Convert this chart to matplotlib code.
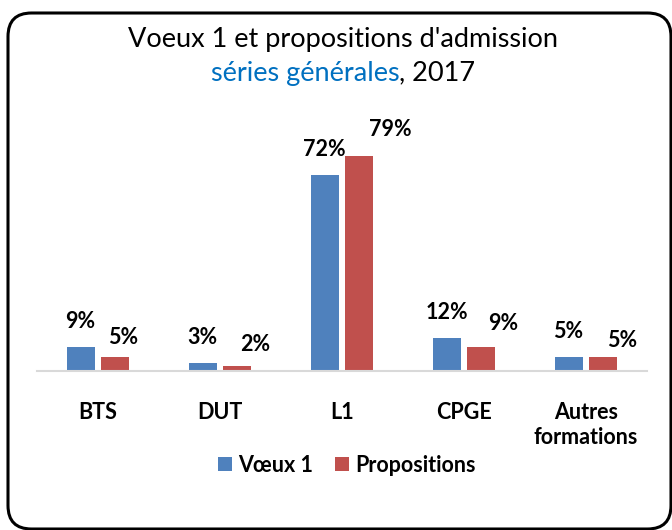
import matplotlib.pyplot as plt
import numpy as np
from matplotlib.patches import FancyBboxPatch

plt.rcParams['font.family'] = ['Lato', 'DejaVu Sans']

categories = ["BTS", "DUT", "L1", "CPGE", "Autres\nformations"]
voeux = [9, 3, 72, 12, 5]
propositions = [5, 2, 79, 9, 5]
series_names = ["Vœux 1", "Propositions"]

blue = "#4F81BD"
red = "#C0504D"

# red labels were dragged by hand in the original (pixel offsets)
red_dx = [8, 18, 31, 22, 19]
red_dy = [11, 13, 18, 15, 8]

W, H = 672, 530
fs = 15.5
fig = plt.figure(figsize=(W / 100, H / 100), dpi=100)

# rounded frame
box = FancyBboxPatch((8 / W, 1 - 529 / H), 663 / W, 516 / H,
                     boxstyle="round,pad=0,rounding_size=0.035",
                     transform=fig.transFigure, fill=False,
                     edgecolor="black", linewidth=2.2, mutation_aspect=W / H)
fig.patches.append(box)

ax = fig.add_axes([37 / W, 1 - 371 / H, 610 / W, 272 / H])
x = np.arange(len(categories))
w = 0.23
off = 0.143
b1 = ax.bar(x - off, voeux, w, color=blue, label=series_names[0])
b2 = ax.bar(x + off, propositions, w, color=red, label=series_names[1])

ax.set_xlim(-0.5, len(categories) - 0.5)
ax.set_ylim(0, 100)
for s in ["top", "left", "right"]:
    ax.spines[s].set_visible(False)
ax.spines["bottom"].set_color("#D9D9D9")
ax.spines["bottom"].set_linewidth(1.5)
ax.set_yticks([])
ax.set_xticks(x)
ax.set_xticklabels(categories, fontsize=fs, fontweight="bold", linespacing=1.25)
ax.tick_params(axis="x", length=0, pad=22)

to_pt = 72 / 100
for i, v in enumerate(voeux):
    ax.annotate(f"{v}%", (x[i] - off, v), xytext=(0, 15 * to_pt),
                textcoords="offset points", ha="center", va="bottom",
                fontsize=fs, fontweight="bold")
for i, v in enumerate(propositions):
    ax.annotate(f"{v}%", (x[i] + off, v),
                xytext=(red_dx[i] * to_pt, (red_dy[i] - 2) * to_pt),
                textcoords="offset points", ha="center", va="bottom",
                fontsize=fs, fontweight="bold")

# title
fig.text(343 / W, 1 - 39 / H, "Voeux 1 et propositions d'admission",
         ha="center", va="center", fontsize=19.5)
t1 = fig.text(0, 1 - 73 / H, "séries générales", color="#0070C0",
              ha="left", va="center", fontsize=19.5)
t2 = fig.text(0, 1 - 73 / H, ", 2017", ha="left", va="center", fontsize=19.5)
fig.canvas.draw()
r = fig.canvas.get_renderer()
w1 = t1.get_window_extent(r).width
w2 = t2.get_window_extent(r).width
x0 = 343 - (w1 + w2) / 2
t1.set_x(x0 / W)
t2.set_x((x0 + w1) / W)

fig.legend(handles=[b1, b2], loc="center", bbox_to_anchor=(347 / W, 1 - 465 / H),
           ncol=2, frameon=False, handlelength=0.65, handleheight=0.65,
           handletextpad=0.3, columnspacing=1.0,
           prop={"weight": "bold", "size": fs})

fig.savefig("out.png", dpi=100)
